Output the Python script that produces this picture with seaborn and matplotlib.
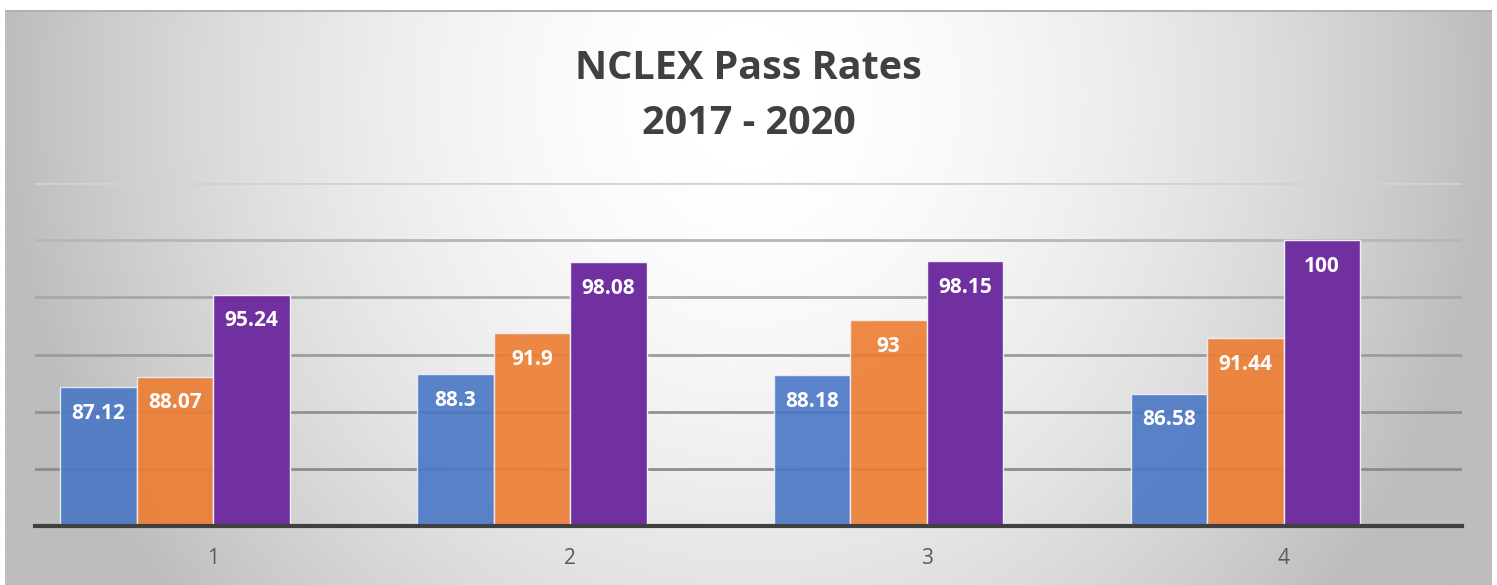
import numpy as np
import pandas as pd
import matplotlib
matplotlib.use("Agg")
import matplotlib.pyplot as plt
import seaborn as sns

# values
categories = ["1", "2", "3", "4"]
series_names = ["Series1", "Series2", "Series3", "Series4"]  # 4th series is empty
series1 = [87.12, 88.3, 88.18, 86.58]
series2 = [88.07, 91.9, 93, 91.44]
series3 = [95.24, 98.08, 98.15, 100]
title_lines = ["NCLEX Pass Rates", "2017 - 2020"]

colors = {"Series1": "#4a77c6", "Series2": "#ed7d31",
          "Series3": "#7030a0", "Series4": "#a5a5a5"}

df = pd.DataFrame({
    "group": categories * 3,
    "series": ["Series1"] * 4 + ["Series2"] * 4 + ["Series3"] * 4,
    "rate": series1 + series2 + series3,
})

sns.set_theme(style="white")
plt.rcParams["font.family"] = ["Open Sans", "DejaVu Sans"]

W, H = 1497, 585
fig = plt.figure(figsize=(W / 100, H / 100), dpi=100)
fig.patch.set_facecolor("white")

# gradient chart background (light centre, grey edges)
bg = fig.add_axes([5 / W, 0, (1492 - 5) / W, 1 - 10 / H])
gx, gy = np.meshgrid(np.linspace(0, 1, 600), np.linspace(0, 1, 300))
d = np.sqrt(((gx - 0.5) / 0.5) ** 2 + ((gy - 0.15) / 1.4) ** 2)
val = np.clip(1 - 0.26 * d ** 1.8, 0.74, 1)
bg.imshow(val, cmap="gray", vmin=0, vmax=1, aspect="auto",
          extent=[0, 1, 1, 0], interpolation="bicubic")
bg.set_axis_off()
bg.plot([0, 1], [0.002, 0.002], color="#b0b0b0", lw=1.5)
bg.set_xlim(0, 1)
bg.set_ylim(1, 0)

ax = fig.add_axes([35 / W, 59 / H, 1427 / W, 343 / H])
ax.patch.set_alpha(0)

sns.barplot(data=df, x="group", y="rate", hue="series", order=categories,
            hue_order=series_names, palette=colors, saturation=1,
            width=0.858, gap=0, edgecolor="#eef0f8", linewidth=1,
            errorbar=None, legend=False, ax=ax)

for cont in ax.containers[:2]:
    for p in cont.patches:
        p.set_alpha(0.9)

for cont in ax.containers:
    texts = ax.bar_label(cont, fmt="%g", padding=-19, color="white",
                         fontsize=15, fontweight="bold")
    for t in texts:
        t.set_va("center")

ax.set_ylim(75, 105)
ax.set_yticks(np.arange(75, 106, 5))
ax.set_xlim(-0.5, 3.5)
ax.set_axisbelow(True)
ax.yaxis.grid(True, linewidth=2)
grid_cols = ["#808080", "#8c8c8c", "#929292", "#9c9c9c", "#a8a8a8", "#b6b6b6", "#d2d2d2"]
for gl, c in zip(ax.get_ygridlines(), grid_cols):
    gl.set_color(c)

ax.set_yticklabels([])
ax.tick_params(axis="y", length=0)
ax.tick_params(axis="x", length=0, pad=16, labelsize=15, labelcolor="#595959")
ax.set_xlabel("")
ax.set_ylabel("")
for s in ["top", "right", "left"]:
    ax.spines[s].set_visible(False)
ax.spines["bottom"].set_color("#404040")
ax.spines["bottom"].set_linewidth(3)

fig.text(0.5, 1 - 79 / H, title_lines[0], ha="center", va="baseline",
         fontsize=28.5, fontweight="bold", color="#404040")
fig.text(0.5, 1 - 134 / H, title_lines[1], ha="center", va="baseline",
         fontsize=28.5, fontweight="bold", color="#404040")

fig.savefig("out.png", dpi=100)
